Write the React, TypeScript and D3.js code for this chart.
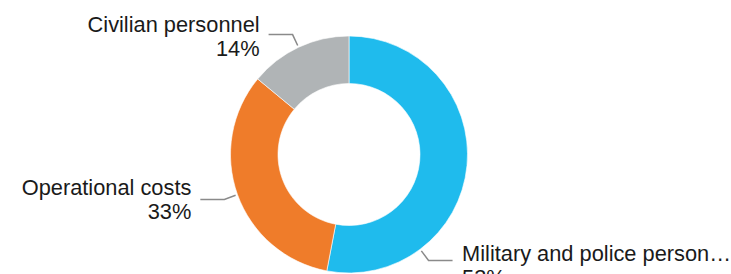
import React, { useRef, useEffect } from "react";
import * as d3 from "d3";

const width = 731;
const height = 274;

const categories = ["Military and police personnel", "Operational costs", "Civilian personnel"];
const shares = [53, 33, 14];
const colors = ["#1fbbed", "#ef7c2a", "#b0b4b6"];

// where along each slice the leader line leaves the ring, and baseline shift of the label
const labelAt = [0.75, 0.5, 0.5];
const labelDy = [1, -4, -3];

const cx = 349;
const cy = 154.5;
const outer = 118.5;
const inner = 71;
const fontSize = 21.8;
const lineGap = 24;

export default function App() {
  const ref = useRef<SVGSVGElement>(null);

  useEffect(() => {
    if (!ref.current) return;
    const svg = d3.select(ref.current);
    svg.selectAll("*").remove();

    const data = categories.map((name, i) => ({ name, value: shares[i], i }));
    const pie = d3.pie<any>().value(d => d.value).sort(null);
    const arcs = pie(data);
    const arc = d3.arc<any>().innerRadius(inner).outerRadius(outer);

    const g = svg.append("g").attr("transform", `translate(${cx},${cy})`);

    g.selectAll("path.slice")
      .data(arcs)
      .join("path")
      .attr("class", "slice")
      .attr("d", arc)
      .attr("fill", d => colors[d.data.i])
      .attr("stroke", "#fff")
      .attr("stroke-width", 0.6);

    const polar = (a: number, r: number): [number, number] => [Math.sin(a) * r, -Math.cos(a) * r];

    arcs.forEach(d => {
      const i = d.data.i;
      const a = d.startAngle + (d.endAngle - d.startAngle) * labelAt[i];
      const p0 = polar(a, outer + 2);
      const p1 = polar(a, outer + 14);
      const right = p1[0] > 0;
      const p2: [number, number] = [p1[0] + (right ? 24 : -24), p1[1]];

      g.append("path")
        .attr("d", d3.line()([p0, p1, p2]))
        .attr("fill", "none")
        .attr("stroke", "#8a8a8a")
        .attr("stroke-width", 1.5);

      const tx = p2[0] + (right ? 9.5 : -9);
      const text = g.append("text")
        .attr("x", tx)
        .attr("y", p2[1] + labelDy[i])
        .attr("text-anchor", right ? "start" : "end")
        .attr("font-family", "Arial, 'Liberation Sans', sans-serif")
        .attr("font-size", fontSize)
        .attr("fill", "#1a1a1a");

      const name = text.append("tspan").attr("x", tx).text(d.data.name);
      // truncate to fit inside the chart area (ellipsis side bearing may touch the edge)
      const avail = (right ? width - (cx + tx) : cx + tx) + 2;
      const node = name.node() as SVGTSpanElement;
      let label = d.data.name;
      if (node.getComputedTextLength() > avail) {
        while (label.length > 1) {
          label = label.slice(0, -1);
          name.text(label.trimEnd() + "…");
          if (node.getComputedTextLength() <= avail) break;
        }
      }
      text.append("tspan").attr("x", tx).attr("dy", lineGap).text(`${d.data.value}%`);
    });
  }, []);

  return (
    <svg
      ref={ref}
      width={width}
      height={height}
      style={{ position: "absolute", left: 0, top: 0, background: "#fff" }}
    />
  );
}
